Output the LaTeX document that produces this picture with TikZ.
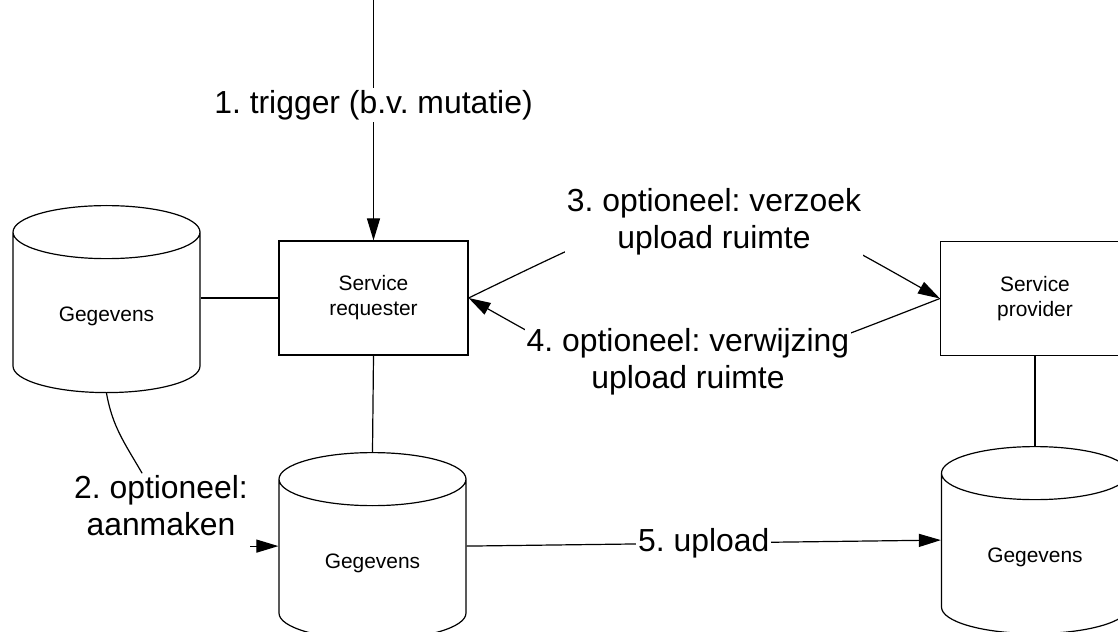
\documentclass[tikz,border=0pt]{standalone}
\usepackage{fontspec}
\setmainfont{Liberation Sans}
\frenchspacing
\usetikzlibrary{shapes.geometric}
\usetikzlibrary{arrows.meta}
\usetikzlibrary{calc}

\begin{document}
\begin{tikzpicture}[x=1bp,y=-1bp,line width=1.2bp,
    box/.style={draw,minimum width=189bp,minimum height=114bp,align=center,font=\fontsize{21}{25}\selectfont},
    store/.style={draw,cylinder,shape border rotate=90,aspect=0.52,minimum width=187bp,minimum height=187bp,anchor=north,font=\fontsize{21}{25}\selectfont},
    lbl/.style={fill=white,align=center,inner sep=2bp,font=\fontsize{32}{37}\selectfont},
    arr/.style={-{Triangle[length=22bp,width=13bp]}}]
        \useasboundingbox (0,0) rectangle (1118,632);
        \clip (0,0) rectangle (1118,632);

        \node[store] (data1) at (106.5,205) {Gegevens};
        \node[box] (requester) at (373.5,298) {Service\\requester};
        \node[store] (data2) at (372.5,452) {Gegevens};
        \node[box] (provider) at (1035,298.5) {Service\\provider};
        \node[store] (data3) at (1035,446) {Gegevens};
        \coordinate (input) at (373.5,0);
        \coordinate (data2 mid) at ($(data2.north)!0.5!(data2.south)$);
        \coordinate (data3 mid) at ($(data3.north)!0.5!(data3.south)$);

        \draw[arr] (input) -- node[lbl,pos=0.436] (trigger) {1. trigger (b.v. mutatie)} (requester.north);
        \draw (data1.east |- requester.west) -- (requester.west);
        \draw (requester.south) -- (data2.north);
        \draw (provider.south) -- (data3.north);

        \node[lbl] (create) at (161,506) {2. optioneel:\\aanmaken};
        \draw (data1.south) to[out=-80,in=120] (create);
        \draw[arr] (create.east |- data2 mid) -- (data2.west |- data2 mid);

        \draw[arr] (requester.east) .. controls (722,175) .. (provider.west);
        \draw[arr] (provider.west) .. controls (662,407) .. (requester.east);
        \node[lbl] (request) at (714,222) {3. optioneel: verzoek\\upload ruimte};
        \node[lbl] (reference) at (688,362) {4. optioneel: verwijzing\\upload ruimte};

        \draw[arr] (data2.east |- data2 mid) -- node[lbl] (upload) {5. upload} (data3.west |- data3 mid);
    \end{tikzpicture}
\end{document}
